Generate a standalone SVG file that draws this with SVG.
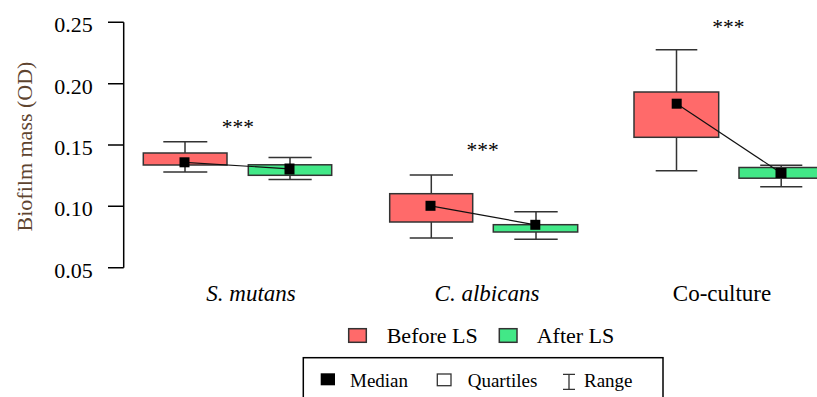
<svg xmlns="http://www.w3.org/2000/svg" width="817" height="397" viewBox="0 0 817 397" font-family="'Liberation Serif', 'DejaVu Serif', serif">
<style>
.tick{font-size:22px;text-anchor:end}
.xl{font-size:23px;text-anchor:middle}
.it{font-style:italic}
.star{font-size:21.5px;text-anchor:middle}
.leg1{font-size:22px}
.leg2{font-size:19px}
.axis{stroke:#000;stroke-width:1.5;fill:none}
.box{stroke:#333;stroke-width:1.5}
.before{fill:#FF6A6A}
.after{fill:#42E887}
.wh{stroke:#333;stroke-width:1.5;fill:none}
.med{fill:#000}
.conn{stroke:#111;stroke-width:1.2;fill:none}
</style>
<rect width="817" height="397" fill="#fff"/>
<g id="y-axis">
<path class="axis" d="M123.7,22.3V267.7M108,22.3H123.7M108,83.7H123.7M108,145H123.7M108,206.3H123.7M108,267.7H123.7"/>
<text class="tick" x="92.7" y="32.3">0.25</text>
<text class="tick" x="92.7" y="93.7">0.20</text>
<text class="tick" x="92.7" y="155">0.15</text>
<text class="tick" x="92.7" y="216.3">0.10</text>
<text class="tick" x="92.7" y="277.7">0.05</text>
<text transform="translate(32,146.5) rotate(-90)" font-size="22" text-anchor="middle" fill="#5e4430">Biofilm mass (OD)</text>
</g>
<g id="smutans-before">
<path class="wh" d="M185,141.7V172M163.3,141.7H207.3M163.3,172H207.3"/>
<rect class="box before" x="143.3" y="153" width="83.7" height="12"/>
</g>
<g id="smutans-after">
<path class="wh" d="M290,157.5V179.5M268.5,157.5H311.7M268.5,179.5H311.7"/>
<rect class="box after" x="248.3" y="164.8" width="83.4" height="10.5"/>
</g>
<g id="calbicans-before">
<path class="wh" d="M431.3,175V238M409.7,175H453M409.7,238H453"/>
<rect class="box before" x="389.7" y="193.7" width="83" height="28.3"/>
</g>
<g id="calbicans-after">
<path class="wh" d="M536,211.7V239.3M514.3,211.7H557.7M514.3,239.3H557.7"/>
<rect class="box after" x="493.3" y="224.7" width="84.4" height="7.3"/>
</g>
<g id="coculture-before">
<path class="wh" d="M676.5,49.7V170.7M655.7,49.7H697.3M655.7,170.7H697.3"/>
<rect class="box before" x="634" y="92" width="84.7" height="45.3"/>
</g>
<g id="coculture-after">
<path class="wh" d="M781.2,165.2V186.8M760.2,165.2H802.3M760.2,186.8H802.3"/>
<rect class="box after" x="739" y="167.5" width="84" height="10.7"/>
</g>
<g id="connectors">
<line class="conn" x1="184.5" y1="162.3" x2="289.5" y2="168.8"/>
<line class="conn" x1="430.5" y1="205.8" x2="535.3" y2="224.8"/>
<line class="conn" x1="676.7" y1="103.7" x2="781" y2="173"/>
</g>
<g id="medians">
<rect class="med" x="179.5" y="157.3" width="10" height="10"/>
<rect class="med" x="284.5" y="163.5" width="10" height="11"/>
<rect class="med" x="425.5" y="200.8" width="10" height="10"/>
<rect class="med" x="530.3" y="219.8" width="10" height="10"/>
<rect class="med" x="671.7" y="98.7" width="10" height="10"/>
<rect class="med" x="775.5" y="168" width="11" height="10"/>
</g>
<g id="significance">
<text class="star" x="237.8" y="133.6">***</text>
<text class="star" x="482.5" y="157">***</text>
<text class="star" x="728.3" y="34.3">***</text>
</g>
<g id="x-labels">
<text class="xl it" x="251" y="301">S. mutans</text>
<text class="xl it" x="487" y="301">C. albicans</text>
<text class="xl" x="722" y="301" font-size="22">Co-culture</text>
</g>
<g id="legend-groups">
<rect class="box before" x="348.7" y="328.7" width="17.6" height="13.6"/>
<text class="leg1" x="386.7" y="343">Before LS</text>
<rect class="box after" x="499.3" y="328.7" width="17.7" height="13.6"/>
<text class="leg1" x="536.7" y="343">After LS</text>
</g>
<g id="legend-stats">
<rect x="303.3" y="357.7" width="359.7" height="50" fill="none" stroke="#000" stroke-width="1.5"/>
<rect class="med" x="320.7" y="373.3" width="14.3" height="12"/>
<text class="leg2" x="350" y="386.5">Median</text>
<rect x="437.3" y="374" width="13.7" height="11.7" fill="#fff" stroke="#333" stroke-width="1.3"/>
<text class="leg2" x="467.7" y="386.5">Quartiles</text>
<path d="M569,374.3V389.3M563,374.3H575M563,389.3H575" fill="none" stroke="#333" stroke-width="1.3"/>
<text class="leg2" x="584" y="386.5">Range</text>
</g>
</svg>
